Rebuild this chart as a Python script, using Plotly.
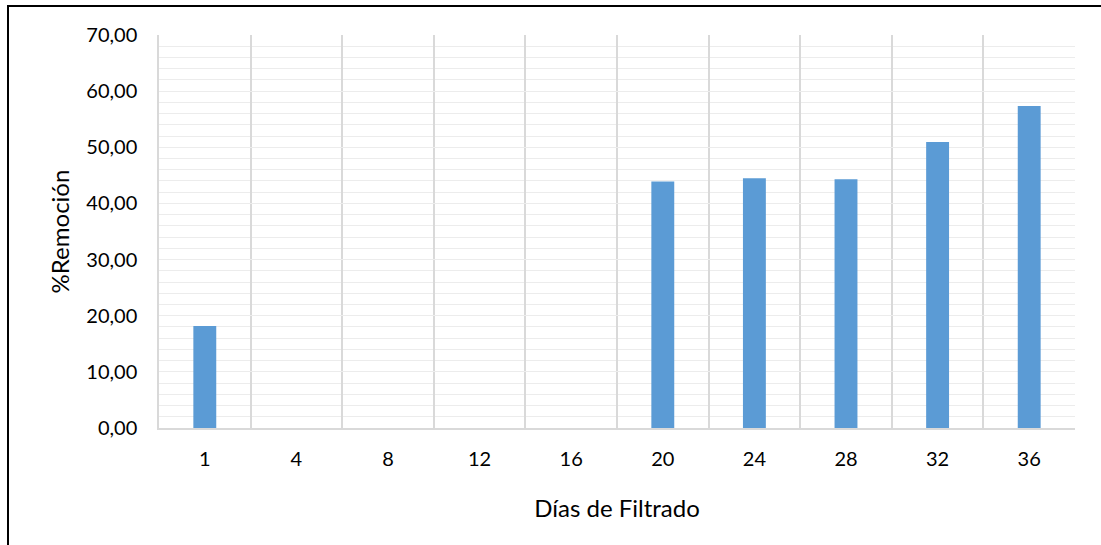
import plotly.graph_objects as go

# Días de filtrado y porcentaje de remoción
dias = ["1", "4", "8", "12", "16", "20", "24", "28", "32", "36"]
remocion = [18.17, 0, 0, 0, 0, 43.90, 44.50, 44.30, 50.95, 57.35]

W, H = 1101, 545
FONT = "Lato, 'Open Sans', sans-serif"

fig = go.Figure(
    go.Bar(
        x=dias,
        y=remocion,
        marker=dict(color="#5B9BD5", line=dict(width=0)),
        width=0.25,
    )
)

fig.update_layout(
    width=W,
    height=H,
    autosize=False,
    margin=dict(l=0, r=0, t=0, b=0, pad=0, autoexpand=False),
    paper_bgcolor="white",
    plot_bgcolor="white",
    separators=",.",
    showlegend=False,
    font=dict(family=FONT, size=20, color="#000000"),
    xaxis=dict(
        domain=[159 / W, 1075 / W],
        type="category",
        tickson="boundaries",
        automargin=False,
        showgrid=True,
        gridcolor="#d9d9d9",
        gridwidth=1.5,
        showline=True,
        linecolor="#d9d9d9",
        linewidth=1.5,
        ticks="",
        ticklabelstandoff=12,
        title=dict(text="Días de Filtrado", standoff=31, font=dict(size=24)),
    ),
    yaxis=dict(
        domain=[(H - 428) / H, (H - 35) / H],
        range=[0, 70],
        dtick=10,
        tickformat=".2f",
        automargin=False,
        showgrid=True,
        gridcolor="#ececec",
        gridwidth=1.3,
        minor=dict(dtick=2, showgrid=True, gridcolor="#ececec", gridwidth=1.3),
        showline=True,
        linecolor="#d9d9d9",
        linewidth=1.5,
        zeroline=False,
        ticks="",
        ticklabelstandoff=16,
        title=dict(text="%Remoción", standoff=10, font=dict(size=24)),
    ),
    shapes=[
        dict(
            type="path",
            xref="paper",
            yref="paper",
            path=f"M {8 / W},0 L {8 / W},{1 - 6 / H} L 1,{1 - 6 / H}",
            line=dict(color="#000000", width=2),
        )
    ],
)

fig.write_html("out.html")
